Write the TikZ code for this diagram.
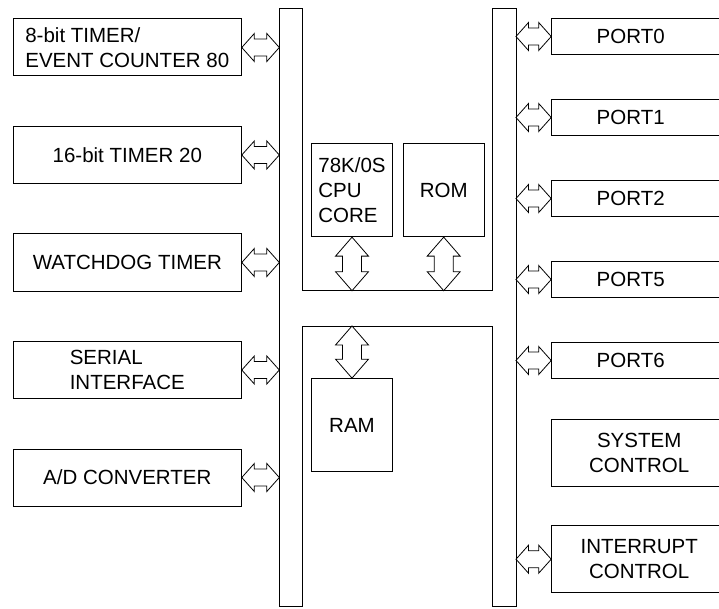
\documentclass[tikz,border=0pt]{standalone}
\usepackage{fontspec}
\setmainfont{Liberation Sans}
\usetikzlibrary{calc,positioning}
\tikzset{
	% outline of a two-headed bus arrow, #1 = head length, #2 = head half width, #3 = shaft half width
	dbl/.style n args={3}{to path={
		-- ($(\tikztostart)!#1!(\tikztotarget)!#2!90:(\tikztotarget)$)
		-- ($(\tikztostart)!#1!(\tikztotarget)!#3!90:(\tikztotarget)$)
		-- ($(\tikztotarget)!#1!(\tikztostart)!#3!-90:(\tikztostart)$)
		-- ($(\tikztotarget)!#1!(\tikztostart)!#2!-90:(\tikztostart)$)
		-- (\tikztotarget)
		-- ($(\tikztotarget)!#1!(\tikztostart)!#2!90:(\tikztostart)$)
		-- ($(\tikztotarget)!#1!(\tikztostart)!#3!90:(\tikztostart)$)
		-- ($(\tikztostart)!#1!(\tikztotarget)!#3!-90:(\tikztotarget)$)
		-- ($(\tikztostart)!#1!(\tikztotarget)!#2!-90:(\tikztotarget)$)
		-- cycle}},
	h arrow/.style={dbl={12.5pt}{14pt}{8.5pt}, line width=0.8pt},
	v arrow/.style={dbl={19pt}{16.5pt}{9.5pt}, line width=0.8pt}
}

\begin{document}
\begin{tikzpicture}[x=1pt,y=-1pt,font=\fontsize{20.5}{25}\selectfont]
	\tikzset{my box/.style = {rectangle, draw, line width=1pt, align=left, inner sep=0pt}}
	\tikzset{left box/.style = {my box, minimum width=228pt, minimum height=57pt}}
	\tikzset{port box/.style = {my box, minimum width=190pt, minimum height=35.7pt}}
	\tikzset{ctl box/.style = {my box, align=center, minimum width=190pt, minimum height=67.5pt}}
	\tikzset{core box/.style = {my box, minimum width=81.4pt, minimum height=92.7pt}}
	\useasboundingbox (0,0) rectangle (719,609);
	\clip (0,0) rectangle (719,609);
	% bus
	\coordinate (busL) at (279.3,8.3);
	\coordinate (busR) at (516,8.3);
	\coordinate (busU) at (302.7,290.7);
	\coordinate (busD) at (302.7,326);
	\draw[line width=1pt] (279.3,8.3) -- (302.7,8.3) -- (busU) -- (492.7,290.7) -- (492.7,8.3)
		-- (busR) -- (516,606.7) -- (492.7,606.7) -- (492.7,326) -- (busD) -- (302.7,606.7)
		-- (279.3,606.7) -- cycle;
	% left blocks
	\node[left box] (t80) at (127.3,47.5) {8-bit TIMER/\\EVENT COUNTER 80};
	\node[left box] (t20) [below=49.5pt of t80] {16-bit TIMER 20};
	\node[left box] (wdt) [below=49.5pt of t20] {WATCHDOG TIMER};
	\node[left box] (sio) [below=49.5pt of wdt] {SERIAL\\INTERFACE};
	\node[left box] (adc) [below=49.5pt of sio] {A/D CONVERTER};
	% core
	\node[core box] (cpu) at (352,190.3) {78K/0S\\CPU\\CORE};
	\node[core box] (rom) [right=9.3pt of cpu] {ROM};
	\node[core box] (ram) at (352,425) {RAM};
	% right blocks (cut off by the right margin)
	\node[port box] (p0) at (646.7,36.5) {PORT0\hspace*{32pt}};
	\node[port box] (p1) [below=44.3pt of p0] {PORT1\hspace*{32pt}};
	\node[port box] (p2) [below=44.3pt of p1] {PORT2\hspace*{32pt}};
	\node[port box] (p5) [below=44.3pt of p2] {PORT5\hspace*{32pt}};
	\node[port box] (p6) [below=44.3pt of p5] {PORT6\hspace*{32pt}};
	\node[ctl box] (sys) at (646.7,452.8) {SYSTEM\hspace*{15pt}\\CONTROL\hspace*{15pt}};
	\node[ctl box] (intc) at (646.7,559.2) {INTERRUPT\hspace*{15pt}\\CONTROL\hspace*{15pt}};
	% bus arrows
	\draw[h arrow] (t80.east) to (t80.east -| busL);
	\draw[h arrow] (t20.east) to (t20.east -| busL);
	\draw[h arrow] (wdt.east) to (wdt.east -| busL);
	\draw[h arrow] (sio.east) to (sio.east -| busL);
	\draw[h arrow] (adc.east) to (adc.east -| busL);
	\draw[h arrow] (p0.west -| busR) to (p0.west);
	\draw[h arrow] (p1.west -| busR) to (p1.west);
	\draw[h arrow] (p2.west -| busR) to (p2.west);
	\draw[h arrow] (p5.west -| busR) to (p5.west);
	\draw[h arrow] (p6.west -| busR) to (p6.west);
	\draw[h arrow] (intc.west -| busR) to (intc.west);
	\draw[v arrow] (cpu.south) to (cpu.south |- busU);
	\draw[v arrow] (rom.south) to (rom.south |- busU);
	\draw[v arrow] (ram.north |- busD) to (ram.north);
\end{tikzpicture}
\end{document}
